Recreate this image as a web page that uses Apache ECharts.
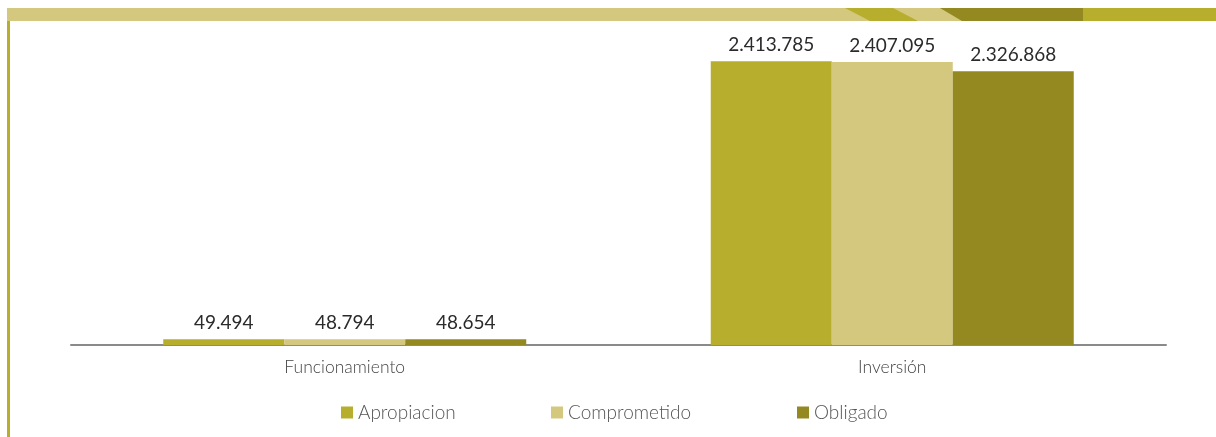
<!DOCTYPE html>
<html>
<head>
<meta charset="utf-8">
<script src="https://cdn.jsdelivr.net/npm/echarts@6/dist/echarts.min.js"></script>
<style>
  html, body { margin: 0; padding: 0; background: #fff; }
  #chart { width: 1216px; height: 437px; }
</style>
</head>
<body>
<div id="chart"></div>
<script>
// data
var categories = ["Funcionamiento", "Inversión"];
var seriesNames = ["Apropiacion", "Comprometido", "Obligado"];
var apropiacion = [49494, 2413785];
var comprometido = [48794, 2407095];
var obligado = [48654, 2326868];
var colors = ["#b8ae2e", "#d4c87e", "#938920"];

var myChart = echarts.init(document.getElementById("chart"), null, {
  renderer: "canvas",
});

// thousands with dots, like the reference
function fmt(v) {
  return String(v).replace(/\B(?=(\d{3})+(?!\d))/g, ".");
}

var values = [apropiacion, comprometido, obligado];
var series = seriesNames.map(function (name, i) {
  return {
    name: name,
    type: "bar",
    data: values[i],
    barGap: "0%",
    barCategoryGap: "33.7%",
    itemStyle: { color: colors[i] },
    label: {
      show: true,
      position: "top",
      distance: 7,
      color: "#2b2b2b",
      fontFamily: "Lato",
      fontSize: 19,
      formatter: function (p) { return fmt(p.value); },
    },
  };
});

var legendLefts = [336, 546, 792];
var legends = seriesNames.map(function (name, i) {
  return {
    data: [name],
    left: legendLefts[i],
    top: 398,
    itemWidth: 12,
    itemHeight: 12,
    itemGap: 6,
    icon: "rect",
    textStyle: { color: "#555", fontFamily: "Lato", fontSize: 19, fontWeight: 300 },
  };
});

var option = {
  animation: false,
  color: colors,
  legend: legends,
  grid: { left: 71, right: 50, top: 51, bottom: 92 },
  xAxis: {
    type: "category",
    data: categories,
    axisLine: { lineStyle: { color: "#8a8a8a", width: 2 } },
    axisTick: { show: false },
    axisLabel: {
      margin: 13,
      color: "#444",
      fontFamily: "Lato",
      fontSize: 17.5,
      fontWeight: 300,
    },
  },
  yAxis: {
    type: "value",
    min: 0,
    max: 2500000,
    show: false,
    splitLine: { show: false },
  },
  // decorative band at the top and the line on the left
  graphic: [
    { type: "rect", shape: { x: 7, y: 8, width: 1209, height: 13 }, style: { fill: "#d4c87e" } },
    { type: "polygon", shape: { points: [[845, 8], [893, 8], [918, 21], [870, 21]] }, style: { fill: "#b8ae2e" } },
    { type: "polygon", shape: { points: [[940, 8], [1083, 8], [1083, 21], [962, 21]] }, style: { fill: "#938920" } },
    { type: "rect", shape: { x: 1083, y: 8, width: 133, height: 13 }, style: { fill: "#b8ae2e" } },
    { type: "rect", shape: { x: 7, y: 21, width: 3, height: 416 }, style: { fill: "#b8ae2e" } },
  ],
  series: series,
};

myChart.setOption(option);
window.addEventListener("resize", myChart.resize);
</script>
</body>
</html>
